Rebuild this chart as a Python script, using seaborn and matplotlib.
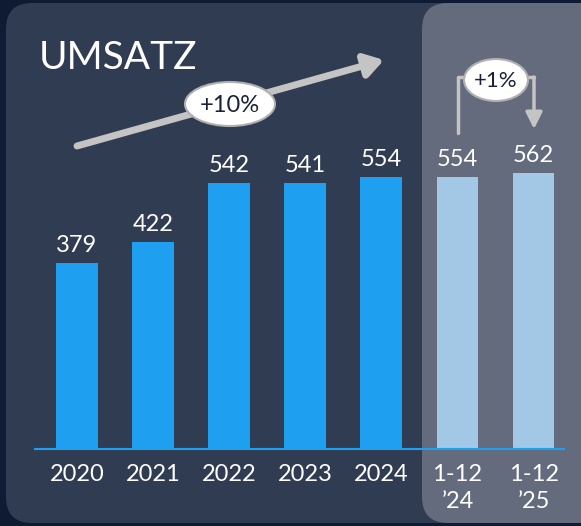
import matplotlib
matplotlib.use("Agg")
import matplotlib.pyplot as plt
import seaborn as sns
import pandas as pd
from matplotlib.patches import FancyBboxPatch, Ellipse

# chart data
labels = ["2020", "2021", "2022", "2023", "2024", "1-12\n\u201924", "1-12\n\u201925"]
umsatz = [379, 422, 542, 541, 554, 554, 562]
bar_colors = ["#1e9ff0"] * 5 + ["#a3c8e6"] * 2

df = pd.DataFrame({"Periode": labels, "Umsatz": umsatz})

sns.set_style("white")
plt.rcParams["font.family"] = ["Lato", "DejaVu Sans"]

W, H = 581, 526
fig = plt.figure(figsize=(W / 100, H / 100), dpi=100)
fig.patch.set_facecolor("#0e1b33")

# background panels drawn in pixel coordinates
bg = fig.add_axes([0, 0, 1, 1])
bg.set_xlim(0, W)
bg.set_ylim(H, 0)
bg.axis("off")
bg.add_patch(FancyBboxPatch((6, 3), 640, 520, boxstyle="round,pad=0,rounding_size=26",
                            facecolor="#303c52", edgecolor="none"))
bg.add_patch(FancyBboxPatch((422, 3), 220, 520, boxstyle="round,pad=0,rounding_size=26",
                            facecolor="#636b7c", edgecolor="none"))
bg.text(39, 58, "UMSATZ", color="white", fontsize=28, fontweight="normal",
        va="center", ha="left")

# bar chart
ax = fig.add_axes([35 / W, 77 / H, (564 - 35) / W, 449 / H])
ax.patch.set_alpha(0)
sns.barplot(data=df, x="Periode", y="Umsatz", hue="Periode", palette=bar_colors,
            width=0.55, legend=False, ax=ax, saturation=1, linewidth=0, edgecolor="none")
ax.set_xlim(-0.55, 6.4)
ax.set_ylim(0, 914)
for s in ["top", "right", "left"]:
    ax.spines[s].set_visible(False)
ax.spines["bottom"].set_color("#1e9ff0")
ax.spines["bottom"].set_linewidth(1.5)
ax.set_yticks([])
ax.set_xlabel("")
ax.set_ylabel("")
ax.tick_params(axis="x", length=0, pad=11, labelsize=17, labelcolor="white")
for t in ax.get_xticklabels():
    t.set_linespacing(1.35)
    t.set_va("top")

for i, v in enumerate(umsatz):
    ax.text(i, v + 14, f"{v}", color="white", fontsize=17, ha="center", va="bottom")

# overlay for the growth callouts (pixel coordinates)
ov = fig.add_axes([0, 0, 1, 1])
ov.set_xlim(0, W)
ov.set_ylim(H, 0)
ov.axis("off")
ov.patch.set_alpha(0)

grey = "#c4c4c4"
ov.annotate("", xy=(384, 60), xytext=(77, 146),
            arrowprops=dict(arrowstyle="-|>,head_length=1.1,head_width=0.7",
                            color=grey, lw=5, shrinkA=0, shrinkB=0), zorder=2)
ov.add_patch(Ellipse((230, 104), 90, 44, facecolor="white", edgecolor="#b0b0b0",
                     lw=1.5, zorder=5))
ov.text(230, 105, "+10%", color="#1a2238", fontsize=17, ha="center", va="center", zorder=6)

ov.plot([458, 458, 534], [133, 77, 77], color=grey, lw=2.5, zorder=2)
ov.annotate("", xy=(534, 129), xytext=(534, 77),
            arrowprops=dict(arrowstyle="-|>,head_length=1.0,head_width=0.5",
                            color=grey, lw=2.5, shrinkA=0, shrinkB=0), zorder=2)
ov.add_patch(Ellipse((496, 80), 64, 42, facecolor="white", edgecolor="#b0b0b0",
                     lw=1.5, zorder=5))
ov.text(496, 81, "+1%", color="#1a2238", fontsize=16, ha="center", va="center", zorder=6)

fig.savefig("out.png", dpi=100, facecolor=fig.get_facecolor())
